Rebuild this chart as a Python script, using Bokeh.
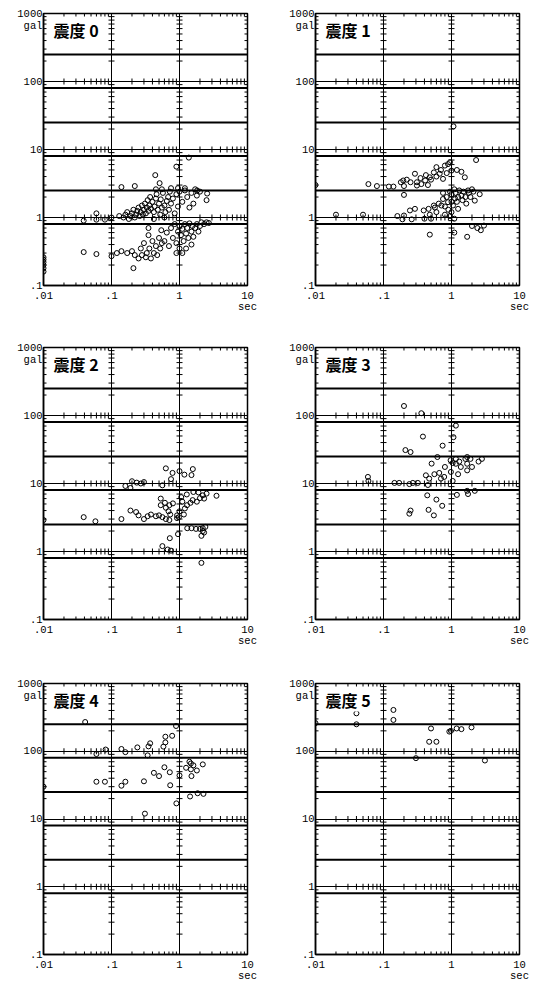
import numpy as np
from bokeh.plotting import figure
from bokeh.models import Range1d, FixedTicker, Span, Label, ColumnDataSource
from bokeh.layouts import column, row
from bokeh.embed import file_html
from bokeh.resources import INLINE

# ---------------- data ----------------
titles = ["震度 0", "震度 1", "震度 2", "震度 3", "震度 4", "震度 5"]
x_ticks = [0.01, 0.1, 1, 10]
x_tick_labels = [".01", ".1", "1", "10\nsec"]
y_ticks = [0.1, 1, 10, 100, 1000]
y_tick_labels = [".1", "1", "10", "100", "1000"]
y_unit_tick = 660          # where the "gal" unit text sits under "1000"
y_unit_label = "gal"
intensity_bounds = [0.8, 2.5, 8, 25, 80, 250]

p0_T = [1.37, 0.9, 0.44, 0.51, 0.14, 0.22, 2.55, 2.5, 1.82,
        0.13, 0.15, 0.16, 0.17, 0.18, 0.19, 0.2, 0.21, 0.22, 0.23, 0.24, 0.25, 0.26, 0.27, 0.28, 0.29,
        0.3, 0.31, 0.32, 0.33, 0.34, 0.35, 0.36, 0.37, 0.38, 0.4, 0.42, 0.43, 0.45, 0.46, 0.48, 0.5,
        0.52, 0.53, 0.55, 0.57, 0.6, 0.62, 0.65, 0.68, 0.7, 0.72, 0.75, 0.8, 0.85, 0.9, 0.95, 1.0,
        1.1, 1.2, 1.3, 1.4, 1.5, 1.6, 1.7, 1.8, 2.0, 0.42, 0.6, 0.45, 0.55, 0.75, 0.95, 1.2,
        0.6, 0.65, 0.7, 0.75, 0.8, 0.85, 0.9, 0.95, 1.0, 1.0, 1.05, 1.1, 1.15, 1.2, 1.25, 1.3, 1.35,
        1.4, 1.5, 1.55, 1.6, 1.7, 1.8, 1.9, 2.0, 2.1, 2.3, 2.5, 2.7, 1.25, 1.5, 0.9, 1.1,
        0.039, 0.06, 0.1, 0.12, 0.14, 0.17, 0.2, 0.21, 0.22, 0.25, 0.27, 0.28, 0.3, 0.32, 0.33,
        0.35, 0.36, 0.38, 0.4, 0.42, 0.45, 0.47, 0.5, 0.52, 0.55, 0.35, 0.54,
        0.039, 0.06, 0.06, 0.08, 0.1,
        0.01, 0.01, 0.01, 0.01, 0.01, 0.01]
p0_A = [7.6, 5.6, 4.2, 3.2, 2.8, 2.9, 2.25, 1.8, 2.5,
        1.05, 1.0, 1.1, 1.2, 0.95, 1.05, 1.15, 1.3, 1.0, 1.1, 1.25, 1.4, 1.05, 1.2, 1.5, 1.1,
        1.3, 1.6, 1.15, 1.4, 1.8, 1.25, 1.5, 2.0, 1.35, 1.7, 1.2, 1.45, 1.9, 2.2, 1.3, 1.6,
        1.1, 1.85, 1.4, 2.3, 1.5, 1.2, 1.75, 2.0, 1.3, 2.4, 1.6, 1.9, 1.15, 2.2, 1.45, 2.4,
        1.7, 2.5, 2.0, 1.4, 2.3, 1.6, 2.6, 2.1, 2.4, 0.95, 1.0, 2.6, 2.6, 2.7, 2.7, 2.7,
        0.45, 0.6, 0.38, 0.7, 0.5, 0.8, 0.42, 0.62, 0.75, 0.35, 0.55, 0.68, 0.45, 0.8, 0.58, 0.7, 0.5,
        0.82, 0.62, 0.75, 0.52, 0.7, 0.8, 0.62, 0.75, 0.85, 0.8, 0.85, 0.83, 0.35, 0.4, 0.3, 0.3,
        0.31, 0.29, 0.27, 0.3, 0.32, 0.3, 0.32, 0.18, 0.28, 0.25, 0.35, 0.28, 0.42, 0.26, 0.3,
        0.55, 0.35, 0.25, 0.45, 0.3, 0.38, 0.28, 0.5, 0.35, 0.42, 0.7, 0.65,
        0.9, 1.15, 0.93, 0.93, 1.0,
        0.16, 0.18, 0.2, 0.22, 0.24, 0.26]

p1_T = [2.3, 0.6, 0.89, 1.0, 1.4, 1.57, 0.29, 0.195, 0.2, 0.31, 0.41, 0.48, 0.67, 0.75,
        0.06, 0.08, 0.12, 0.14, 0.2, 0.31, 0.36, 0.02, 0.05, 0.01,
        1.0, 1.13, 1.4, 1.8, 2.1, 2.6, 2.2, 1.65, 1.25, 1.0, 0.89, 0.75, 0.71, 0.57, 0.46, 0.39,
        0.29, 0.245, 0.2, 0.16, 0.19, 0.26, 0.4, 0.48, 0.5, 0.8, 0.95, 1.1,
        0.48, 1.1, 1.7, 2.0, 2.4, 2.7, 3.0, 1.07,
        0.85, 0.95, 1.05, 1.15, 1.2, 1.3, 1.45, 1.5, 1.6, 1.75, 1.9, 2.0, 0.9, 1.0, 0.8, 0.75,
        0.65, 0.6, 0.55, 1.1, 1.25,
        0.35, 0.42, 0.5, 0.55, 0.6, 0.7, 0.8, 0.85, 0.45, 0.25, 0.22, 0.18, 1.2, 0.95]
p1_A = [7.0, 5.5, 6.1, 4.9, 4.7, 3.9, 4.4, 3.5, 2.9, 3.3, 3.5, 3.9, 4.4, 3.7,
        3.1, 2.9, 2.85, 2.85, 2.15, 2.95, 3.1, 1.1, 1.1, 3.0,
        2.2, 1.9, 2.1, 2.3, 2.4, 2.2, 1.77, 1.6, 1.34, 1.2, 1.68, 1.87, 1.5, 1.4, 1.34, 1.27,
        1.34, 1.27, 1.07, 1.05, 0.94, 0.94, 0.96, 1.1, 0.96, 1.1, 1.05, 0.96,
        0.56, 0.6, 0.52, 0.75, 0.7, 0.65, 0.76, 21.9,
        2.0, 2.4, 1.5, 2.3, 1.7, 2.5, 1.8, 2.4, 2.0, 2.5, 2.0, 2.6, 1.3, 1.7, 1.45, 2.3,
        1.6, 1.2, 1.5, 2.6, 2.0,
        3.8, 4.2, 3.6, 4.6, 4.0, 5.0, 5.8, 4.5, 3.0, 3.3, 3.6, 3.3, 5.0, 6.5]

p2_T = [0.63, 0.79, 1.0, 1.18, 1.5, 1.57, 0.75, 0.56, 0.2, 0.235, 0.27, 0.3, 0.16, 0.19,
        0.039, 0.058, 0.14, 0.01,
        0.19, 0.23, 0.25, 0.3, 0.34, 0.38, 0.45, 0.5, 0.56, 0.63, 0.53, 0.61, 0.71, 0.8, 0.53,
        0.63, 0.69, 0.73, 0.71, 0.92, 0.92, 1.16, 1.0, 1.2, 1.29, 1.45, 1.56, 1.8, 2.0, 2.2, 2.5,
        1.9, 1.6, 1.28, 1.06, 1.1, 3.5, 2.3, 0.98,
        1.3, 1.5, 1.75, 2.0, 2.2, 2.4, 2.3, 2.1, 2.2,
        0.72, 0.56, 0.67, 0.75, 0.95, 2.1]
p2_A = [16.7, 14.3, 15.2, 13.5, 13.3, 16.3, 11.6, 9.4, 10.8, 10.3, 10.0, 10.5, 9.2, 8.6,
        3.2, 2.78, 3.0, 2.9,
        4.0, 3.8, 3.4, 3.0, 3.3, 3.5, 3.3, 3.4, 3.2, 3.0, 4.8, 5.2, 4.8, 5.1, 6.0,
        4.4, 3.9, 3.5, 2.9, 3.4, 3.1, 3.5, 3.9, 4.3, 4.8, 5.2, 5.7, 5.4, 6.1, 6.7, 7.1,
        7.4, 7.5, 6.9, 6.3, 5.4, 6.6, 6.0, 3.2,
        2.2, 2.2, 2.15, 2.15, 2.2, 2.3, 1.9, 1.7, 2.0,
        1.57, 1.2, 1.07, 1.03, 1.8, 0.68]

p3_T = [0.2, 0.36, 0.38, 0.74, 0.21, 0.25, 1.16, 1.07, 0.62, 0.51, 0.8, 0.97, 1.04, 1.16,
        1.16, 1.37, 1.6, 1.7, 1.9, 1.7, 1.7, 2.0, 2.5, 2.8, 1.3, 0.98, 1.25, 0.42, 0.47, 0.56,
        0.66, 0.7, 0.78, 0.45, 0.32, 0.27, 0.24, 0.17, 0.145, 0.059, 0.06, 1.04,
        1.7, 2.2, 1.75, 1.2, 0.44, 0.6, 0.73, 0.46, 0.55, 0.25, 0.24]
p3_A = [138, 108, 49, 36, 31, 29, 71, 48, 24.5, 19.6, 17.5, 22, 20, 19.5,
        23, 17.5, 23, 24.5, 23, 19.5, 15.6, 17.5, 21, 23, 21, 14.8, 13.7, 13.2, 11.8, 13.7,
        14.3, 11.8, 12.5, 9.5, 10.2, 10.2, 9.8, 10.2, 10.2, 12.5, 10.9, 10.9,
        7.8, 7.8, 7.0, 6.8, 6.7, 5.8, 4.7, 4.1, 3.4, 4.0, 3.6]

p4_T = [0.041, 0.89, 0.78, 0.62, 0.62, 0.58, 0.37, 0.35, 0.24, 0.14, 0.16, 0.082, 0.06,
        0.34, 0.6, 0.42, 0.5, 0.72, 0.73, 0.3, 0.16, 0.14, 0.06, 0.08,
        1.0, 1.25, 1.47, 1.47, 1.5, 1.6, 1.8, 2.2, 1.43, 1.85, 2.25, 0.9, 0.31, 1.4, 0.01]
p4_A = [270, 236, 169, 164, 135, 117, 131, 118, 114, 108, 97, 106, 91,
        87, 58, 48, 43, 49, 31.5, 36, 35.5, 31, 35.5, 35.5,
        44, 57, 66, 54, 43, 62, 52, 64, 21.5, 24, 23.5, 17, 12, 70, 30]

p5_T = [0.04, 0.14, 0.14, 0.04, 0.5, 0.98, 1.19, 1.4, 1.97, 0.47, 0.6, 0.93, 3.1, 0.3, 0.01]
p5_A = [363, 407, 290, 250, 217, 200, 217, 212, 225, 138, 138, 195, 73, 79, 260]

panels_T = [p0_T, p1_T, p2_T, p3_T, p4_T, p5_T]
panels_A = [p0_A, p1_A, p2_A, p3_A, p4_A, p5_A]

# -------------- layout sizes --------------
FRAME_W, FRAME_H = 204, 272
widths = [273, 265]
left_borders = [43, 42]
row_heights = [340, 334, 310]
top_borders = [13, 7, 9]

MONO = "Liberation Mono"

# minor tick positions derived from the axis decades
x_minor = [k * 10.0 ** d for d in range(-2, 1) for k in range(2, 10)]
y_minor = [k * 10.0 ** d for d in range(-1, 3) for k in range(2, 10)]


def make_panel(i):
    r, c = divmod(i, 2)
    W = widths[c]
    H = row_heights[r]
    lb = left_borders[c]
    tb = top_borders[r]
    p = figure(width=W, height=H, x_axis_type="log", y_axis_type="log",
               x_range=Range1d(0.01, 10), y_range=Range1d(0.1, 1000),
               output_backend="svg", toolbar_location=None,
               min_border_left=lb, min_border_right=W - lb - FRAME_W,
               min_border_top=tb, min_border_bottom=H - tb - FRAME_H,
               background_fill_color="white", border_fill_color="white")
    p.outline_line_color = "black"
    p.outline_line_width = 1.5

    # axes
    p.xaxis.ticker = FixedTicker(ticks=x_ticks)
    p.yaxis.ticker = FixedTicker(ticks=y_ticks + [y_unit_tick])
    p.xaxis.major_label_overrides = {t: l for t, l in zip(x_ticks, x_tick_labels)}
    yo = {t: l for t, l in zip(y_ticks, y_tick_labels)}
    yo[y_unit_tick] = y_unit_label
    p.yaxis.major_label_overrides = yo
    for ax in (p.xaxis, p.yaxis):
        ax.major_tick_in = 0
        ax.major_tick_out = 0
        ax.minor_tick_in = 0
        ax.minor_tick_out = 0
        ax.axis_line_color = "black"
        ax.axis_line_width = 1.5
        ax.major_label_text_font = MONO
        ax.major_label_text_font_size = "10.5px"
        ax.major_label_text_color = "black"
        ax.major_label_text_line_height = 0.95
    p.xaxis.major_label_standoff = 4
    p.yaxis.major_label_standoff = 1

    # decade grid lines
    p.xgrid.ticker = FixedTicker(ticks=x_ticks)
    p.ygrid.ticker = FixedTicker(ticks=y_ticks)
    p.xgrid.grid_line_color = "black"
    p.ygrid.grid_line_color = "black"
    p.xgrid.grid_line_width = 1
    p.ygrid.grid_line_width = 1
    p.xgrid.grid_line_alpha = 1
    p.ygrid.grid_line_alpha = 1

    # tick crosses along decade lines
    hx = [xv for xv in x_ticks for _ in y_minor]
    hy = [yv for _ in x_ticks for yv in y_minor]
    p.scatter(hx, hy, marker="dash", size=6, line_color="black", line_width=1)
    vx = [xv for _ in y_ticks for xv in x_minor]
    vy = [yv for yv in y_ticks for _ in x_minor]
    p.scatter(vx, vy, marker="dash", angle=np.pi / 2, size=6, line_color="black", line_width=1)

    # intensity boundary lines
    for b in intensity_bounds:
        p.add_layout(Span(location=b, dimension="width", line_color="black", line_width=2))

    # data
    src = ColumnDataSource(dict(T=panels_T[i], A=panels_A[i]))
    p.scatter("T", "A", source=src, marker="circle", size=5, fill_color=None,
              line_color="black", line_width=1)

    # title
    p.add_layout(Label(x=0.01, y=1000, x_offset=10, y_offset=-4, text=titles[i],
                       text_baseline="top", text_align="left",
                       text_font="Noto Sans CJK JP", text_font_style="bold",
                       text_font_size="16px", text_color="black",
                       background_fill_color="white"))
    return p


figs = [make_panel(i) for i in range(6)]
layout = column(row(figs[0], figs[1]), row(figs[2], figs[3]), row(figs[4], figs[5]))

open("out.html", "w").write(file_html(layout, INLINE))
